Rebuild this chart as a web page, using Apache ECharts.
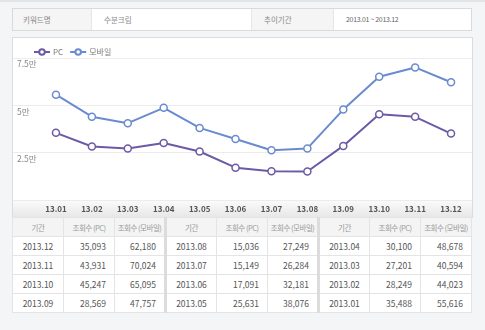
<!DOCTYPE html>
<html><head><meta charset="utf-8">
<script src="https://cdn.jsdelivr.net/npm/echarts@6/dist/echarts.min.js"></script>
<style>
html,body{margin:0;padding:0;}
body{width:485px;height:330px;background:#f4f5f7;position:relative;overflow:hidden;font-family:"Noto Sans CJK KR","Noto Sans",sans-serif;}
#topbar{position:absolute;left:0;top:0;width:485px;height:2px;background:#e3e4e6;}
#info{position:absolute;left:12px;top:8px;width:458px;height:21px;border:1px solid #dadada;background:#fff;font-size:7.5px;color:#888;}
#info div{position:absolute;top:0;height:21px;line-height:21px;white-space:nowrap;}
.lab{background:#f5f5f5;}
#box{position:absolute;left:12px;top:37px;width:459px;height:180px;border:1px solid #dcdcdc;border-bottom:none;background:#fff;}
#band{position:absolute;left:0;top:162px;width:459px;height:18px;background:linear-gradient(#fafafa,#e6e6e6);border-top:1px solid #e8e8e8;box-sizing:border-box;}
#chart{position:absolute;left:0;top:0;width:459px;height:180px;}
table{position:absolute;left:12px;top:217px;border-collapse:collapse;background:#fff;table-layout:fixed;}
td,th{border:1px solid #e4e4e4;height:19px;padding:0;font-size:8.5px;color:#555;white-space:nowrap;overflow:hidden;box-sizing:border-box;}
th{background:#f4f4f4;font-weight:normal;color:#999;font-size:7.5px;letter-spacing:-0.5px;text-align:center;}
td.p{text-align:center;}
td.n{text-align:right;padding-right:8px;}
.sep{border-left:3px solid #dcdcdc;}
</style></head>
<body>
<div id="topbar"></div>
<div id="info">
 <div class="lab" style="left:0;width:78px;padding-left:10px;box-sizing:border-box;">키워드명</div>
 <div style="left:78px;width:160px;padding-left:12px;box-sizing:border-box;border-left:1px solid #e6e6e6;">수분크림</div>
 <div class="lab" style="left:238px;width:82px;padding-left:12px;box-sizing:border-box;border-left:1px solid #e6e6e6;">추이기간</div>
 <div style="left:320px;width:138px;padding-left:12px;box-sizing:border-box;border-left:1px solid #e6e6e6;font-size:7px;color:#666;letter-spacing:-0.3px;">2013.01 ~ 2013.12</div>
</div>
<div id="box"><div id="band"></div><div id="chart"></div></div>
<table id="tbl"></table>
<script>
const months = ['13.01','13.02','13.03','13.04','13.05','13.06','13.07','13.08','13.09','13.10','13.11','13.12'];
const periods = ['2013.01','2013.02','2013.03','2013.04','2013.05','2013.06','2013.07','2013.08','2013.09','2013.10','2013.11','2013.12'];
const pcValues = [35488, 28249, 27201, 30100, 25631, 17091, 15149, 15036, 28569, 45247, 43931, 35093];
const mobileValues = [55616, 44023, 40594, 48678, 38076, 32181, 26284, 27249, 47757, 65095, 70024, 62180];
const seriesNames = ['PC', '모바일'];
const headers = ['기간', '조회수 (PC)', '조회수 (모바일)'];

const chart = echarts.init(document.getElementById('chart'), null, {renderer:'canvas'});
const fontFam = '"Noto Sans CJK KR","Noto Sans",sans-serif';
chart.setOption({
  backgroundColor: 'transparent',
  animation: false,
  legend: {
    left: 15, top: 5, itemWidth: 16, itemHeight: 7, itemGap: 6,
    textStyle: {fontSize: 8, color: '#777', fontFamily: fontFam, padding: [0,0,0,-2]},
    data: seriesNames
  },
  grid: [
    {left: 0, right: 0, top: 20, bottom: 18},
    {left: 25, right: 3, top: 20, bottom: 18}
  ],
  xAxis: [
    {gridIndex: 0, type: 'value', show: false, min: 0, max: 1},
    {gridIndex: 1, type: 'category', data: months, boundaryGap: true,
     axisLine: {show: false}, axisTick: {show: false},
     axisLabel: {margin: 5, fontSize: 8, fontWeight: 600, color: '#555', fontFamily: fontFam, interval: 0}}
  ],
  yAxis: [
    {gridIndex: 0, type: 'value', min: 0, max: 75000, interval: 25000,
     axisLine: {show: false}, axisTick: {show: false},
     splitLine: {lineStyle: {color: '#ececec', width: 1}},
     axisLabel: {inside: true, showMinLabel: false, verticalAlign: 'top', margin: 4, padding: [2,0,0,0],
       fontSize: 8.5, color: '#888', fontFamily: fontFam,
       formatter: v => (v / 10000) + '만'}},
    {gridIndex: 1, type: 'value', min: 0, max: 75000, interval: 25000, show: false}
  ],
  series: [
    {name: seriesNames[0], type: 'line', xAxisIndex: 1, yAxisIndex: 1, data: pcValues,
     symbol: 'circle', symbolSize: 7, showAllSymbol: true,
     lineStyle: {color: '#6d5aa6', width: 2},
     itemStyle: {color: '#fff', borderColor: '#6d5aa6', borderWidth: 1.5}},
    {name: seriesNames[1], type: 'line', xAxisIndex: 1, yAxisIndex: 1, data: mobileValues,
     symbol: 'circle', symbolSize: 7, showAllSymbol: true,
     lineStyle: {color: '#6a8bd0', width: 2},
     itemStyle: {color: '#fff', borderColor: '#6a8bd0', borderWidth: 1.5}}
  ]
});

// build table from same arrays: newest first, 3 groups of 4 rows
const tbl = document.getElementById('tbl');
const fmt = v => v.toLocaleString('en-US');
const order = periods.map((p, i) => i).reverse();
let html = '<colgroup>' + '<col style="width:51px">'.repeat(9) + '</colgroup><tr>';
for (let g = 0; g < 3; g++) {
  headers.forEach((h, k) => { html += '<th' + (g > 0 && k === 0 ? ' class="sep"' : '') + '>' + h + '</th>'; });
}
html += '</tr>';
for (let r = 0; r < 4; r++) {
  html += '<tr>';
  for (let g = 0; g < 3; g++) {
    const i = order[g * 4 + r];
    html += '<td class="p' + (g > 0 ? ' sep' : '') + '">' + periods[i] + '</td>';
    html += '<td class="n">' + fmt(pcValues[i]) + '</td>';
    html += '<td class="n">' + fmt(mobileValues[i]) + '</td>';
  }
  html += '</tr>';
}
tbl.innerHTML = html;
</script>
</body></html>
